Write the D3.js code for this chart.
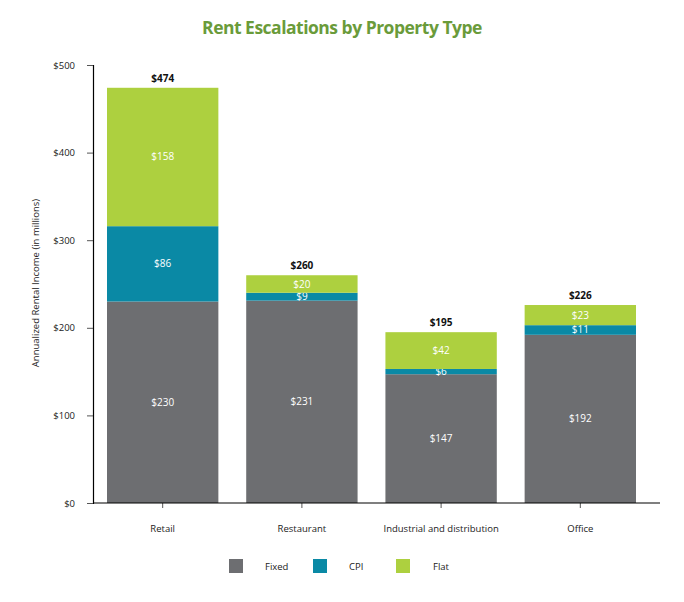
<!DOCTYPE html>
<html><head><meta charset="utf-8">
<script src="https://cdn.jsdelivr.net/npm/d3@7"></script>
<style>
body{margin:0;background:#fff;}
text{font-family:"Open Sans","Noto Sans",sans-serif;}
</style></head>
<body><svg id="c" width="684" height="602"></svg>
<script>
const categories = ["Retail","Restaurant","Industrial and distribution","Office"];
const seriesNames = ["Fixed","CPI","Flat"];
const fixedVals = [230,231,147,192];
const cpiVals = [86,9,6,11];
const flatVals = [158,20,42,23];
const yTicks = [0,100,200,300,400,500];
const colors = ["#6d6e71","#0a89a5","#add03f"];

const svg = d3.select("#c");
const x = d3.scaleBand().domain(categories).range([107,636]).paddingInner(0.2).paddingOuter(0);
const y = d3.scaleLinear().domain([0,500]).range([503,65]);

const rows = categories.map((c,i)=>({cat:c, Fixed:fixedVals[i], CPI:cpiVals[i], Flat:flatVals[i]}));
const stack = d3.stack().keys(seriesNames)(rows);

svg.append("text").attr("x",342).attr("y",34).attr("text-anchor","middle")
  .attr("font-size",17.5).attr("font-weight","bold").attr("fill","#6a9b3a")
  .attr("letter-spacing","-0.5")
  .text("Rent Escalations by Property Type");

stack.forEach((layer,k)=>{
  const g = svg.append("g");
  g.selectAll("rect").data(layer).enter().append("rect")
    .attr("x",d=>x(d.data.cat)).attr("width",x.bandwidth())
    .attr("y",d=>y(d[1])).attr("height",d=>y(d[0])-y(d[1]))
    .attr("fill",colors[k]);
  g.selectAll("text").data(layer).enter().append("text")
    .attr("x",d=>x(d.data.cat)+x.bandwidth()/2)
    .attr("y",d=>(y(d[0])+y(d[1]))/2+3.5)
    .attr("text-anchor","middle").attr("font-size",10).attr("fill","#fff")
    .text(d=>"$"+(d[1]-d[0]));
});

svg.append("g").selectAll("text").data(rows).enter().append("text")
  .attr("x",d=>x(d.cat)+x.bandwidth()/2)
  .attr("y",d=>y(d.Fixed+d.CPI+d.Flat)-6)
  .attr("text-anchor","middle").attr("font-size",10).attr("font-weight","bold").attr("fill","#111")
  .text(d=>"$"+(d.Fixed+d.CPI+d.Flat));

// y axis
const ya = svg.append("g").attr("transform","translate(93,0)")
  .call(d3.axisLeft(y).tickValues(yTicks).tickFormat(d=>"$"+d).tickSize(6).tickPadding(12));
ya.select(".domain").attr("stroke","#000").attr("stroke-width",1.2);
ya.selectAll(".tick line").attr("stroke","#555");
ya.selectAll(".tick text").attr("font-size",9.5).attr("fill","#222").style("font-family","'Open Sans',sans-serif");

// x axis
const xa = svg.append("g").attr("transform","translate(0,503)")
  .call(d3.axisBottom(x).tickSize(5).tickPadding(17));
xa.select(".domain").remove();
xa.selectAll(".tick line").attr("stroke","#555");
xa.selectAll(".tick text").attr("font-size",9.5).attr("fill","#222").style("font-family","'Open Sans',sans-serif");
svg.append("line").attr("x1",93).attr("x2",660).attr("y1",503).attr("y2",503).attr("stroke","#000").attr("stroke-width",1.2);

svg.append("text").attr("transform","translate(39,283) rotate(-90)").attr("text-anchor","middle")
  .attr("font-size",9.5).attr("fill","#222").text("Annualized Rental Income (in millions)");

// legend
const legX = [229,313,396];
const legTX = [265,349,433];
seriesNames.forEach((s,i)=>{
  svg.append("rect").attr("x",legX[i]).attr("y",559).attr("width",14).attr("height",14).attr("fill",colors[i]);
  svg.append("text").attr("x",legTX[i]).attr("y",570).attr("font-size",9.5).attr("fill","#222").text(s);
});
</script></body></html>
